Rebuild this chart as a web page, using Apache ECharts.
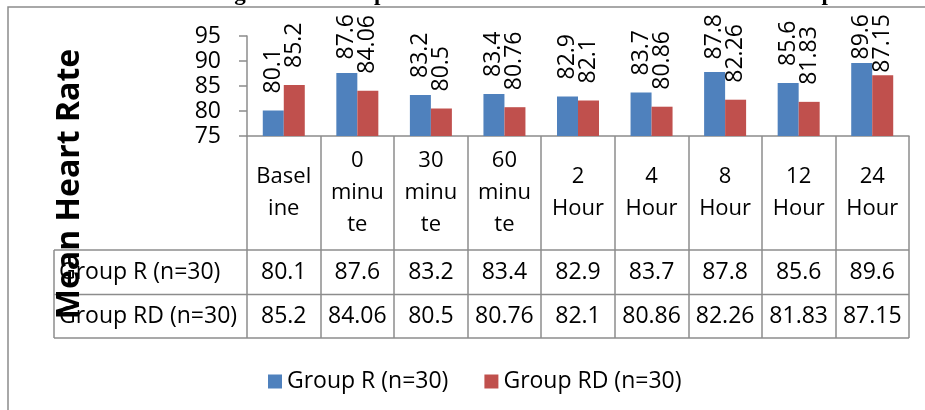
<!DOCTYPE html>
<html>
<head>
<meta charset="utf-8">
<script src="https://cdn.jsdelivr.net/npm/echarts@6/dist/echarts.min.js"></script>
<style>
  html, body { margin: 0; padding: 0; background: #fff; }
  #chart { width: 925px; height: 410px; }
</style>
</head>
<body>
<div id="chart"></div>
<script>
// data
const categories = ['Baseline', '0 minute', '30 minute', '60 minute', '2 Hour', '4 Hour', '8 Hour', '12 Hour', '24 Hour'];
// the header cells wrap like in the original table
const headerLabels = ['Basel\nine', '0\nminu\nte', '30\nminu\nte', '60\nminu\nte', '2\nHour', '4\nHour', '8\nHour', '12\nHour', '24\nHour'];
const groupR = [80.1, 87.6, 83.2, 83.4, 82.9, 83.7, 87.8, 85.6, 89.6];
const groupRD = [85.2, 84.06, 80.5, 80.76, 82.1, 80.86, 82.26, 81.83, 87.15];
const seriesNames = ['Group R (n=30)', 'Group RD (n=30)'];
const yMin = 75, yMax = 95, yStep = 5;

// layout
const gridLeft = 247, gridTop = 36, gridW = 662, gridH = 100;
const axisY = gridTop + gridH;          // 136
const headerBottom = 250, rowRBottom = 294.5, rowRDBottom = 338;
const tableLeft = 54;
const lineColor = '#8c8c8c';
const font = 'Open Sans';

const chart = echarts.init(document.getElementById('chart'));

const labelStyle = {
  show: true,
  position: 'top',
  rotate: 90,
  align: 'left',
  verticalAlign: 'middle',
  distance: 17,
  fontSize: 23,
  fontFamily: font,
  color: '#000'
};

function rowAxis(values, name, centerY) {
  return {
    type: 'category',
    data: categories,
    position: 'bottom',
    offset: centerY - axisY,
    axisLine: { show: false },
    axisTick: { show: false },
    axisLabel: {
      interval: 0,
      margin: 0,
      verticalAlign: 'middle',
      fontSize: 23,
      fontFamily: font,
      color: '#000',
      formatter: (v, i) => String(values[i])
    },
    name: name,
    nameLocation: 'start',
    nameGap: gridLeft - (tableLeft + 5),
    nameTextStyle: { align: 'left', verticalAlign: 'middle', fontSize: 23, fontFamily: font, color: '#000' }
  };
}

const hLine = (y) => ({
  type: 'line',
  shape: { x1: tableLeft, y1: y, x2: gridLeft + gridW, y2: y },
  style: { stroke: lineColor, lineWidth: 1.5 }
});

chart.setOption({
  backgroundColor: '#fff',
  animation: false,
  grid: [
    { left: gridLeft, top: gridTop, width: gridW, height: gridH },
    // table body under the plot, only used for the column rules
    { left: gridLeft, top: axisY, width: gridW, height: rowRDBottom - axisY }
  ],
  legend: {
    data: seriesNames,
    left: 263,
    top: 365,
    icon: 'rect',
    itemWidth: 14,
    itemHeight: 14,
    itemGap: 36,
    textStyle: { fontSize: 23, fontFamily: font, color: '#000' }
  },
  xAxis: [
    {
      type: 'category',
      data: categories,
      position: 'bottom',
      axisLine: { lineStyle: { color: lineColor, width: 1.5 } },
      axisTick: { show: false },
      axisLabel: {
        interval: 0,
        margin: (axisY + headerBottom) / 2 - axisY,
        verticalAlign: 'middle',
        lineHeight: 32,
        fontSize: 22,
        fontFamily: font,
        color: '#000',
        formatter: (v, i) => headerLabels[i]
      }
    },
    rowAxis(groupR, seriesNames[0], (headerBottom + rowRBottom) / 2),
    rowAxis(groupRD, seriesNames[1], (rowRBottom + rowRDBottom) / 2),
    {
      gridIndex: 1,
      type: 'category',
      data: categories,
      axisLine: { show: false },
      axisTick: { show: false },
      axisLabel: { show: false },
      splitLine: { show: true, interval: 0, lineStyle: { color: lineColor, width: 1.5 } }
    }
  ],
  yAxis: [
    {
      type: 'value',
      min: yMin,
      max: yMax,
      interval: yStep,
      splitLine: { show: false },
      axisLine: { show: true, lineStyle: { color: lineColor, width: 1.5 } },
      axisTick: { show: true, length: 8, lineStyle: { color: lineColor, width: 1.5 } },
      axisLabel: { margin: 26, fontSize: 23, fontFamily: font, color: '#000' }
    },
    { gridIndex: 1, type: 'value', show: false, splitLine: { show: false } }
  ],
  labelLayout: function (p) {
    // keep the rotated labels inside the chart box, like the original
    const top = 14;
    const r = p.labelRect;
    return {
      x: p.rect.x + p.rect.width / 2,
      y: Math.max(r.y, top) + r.height
    };
  },
  series: [
    {
      name: seriesNames[0],
      type: 'bar',
      data: groupR,
      barWidth: 21,
      barGap: '0%',
      itemStyle: { color: '#4F81BD' },
      label: labelStyle
    },
    {
      name: seriesNames[1],
      type: 'bar',
      data: groupRD,
      barWidth: 21,
      itemStyle: { color: '#C0504D' },
      label: labelStyle
    }
  ],
  graphic: [
    {
      type: 'rect',
      shape: { x: 8, y: 7, width: 1000, height: 600 },
      style: { fill: null, stroke: lineColor, lineWidth: 1.5 },
      silent: true
    },
    {
      type: 'text',
      x: 500, y: 6,
      style: {
        text: 'Bar Diagram 3 \u2013 Comparison of mean heart rate between two Groups',
        font: 'bold 23px "Liberation Serif"',
        fill: '#000',
        align: 'center',
        verticalAlign: 'bottom'
      }
    },
    hLine(headerBottom),
    hLine(rowRBottom),
    hLine(rowRDBottom),
    {
      type: 'line',
      shape: { x1: tableLeft, y1: headerBottom, x2: tableLeft, y2: rowRDBottom },
      style: { stroke: lineColor, lineWidth: 1.5 }
    },
    {
      type: 'text',
      x: 70, y: 184,
      rotation: Math.PI / 2,
      z: 100,
      style: {
        text: 'Mean Heart Rate',
        font: 'bold 32px "Open Sans"',
        fill: '#000',
        align: 'center',
        verticalAlign: 'middle'
      }
    }
  ]
});
</script>
</body>
</html>
